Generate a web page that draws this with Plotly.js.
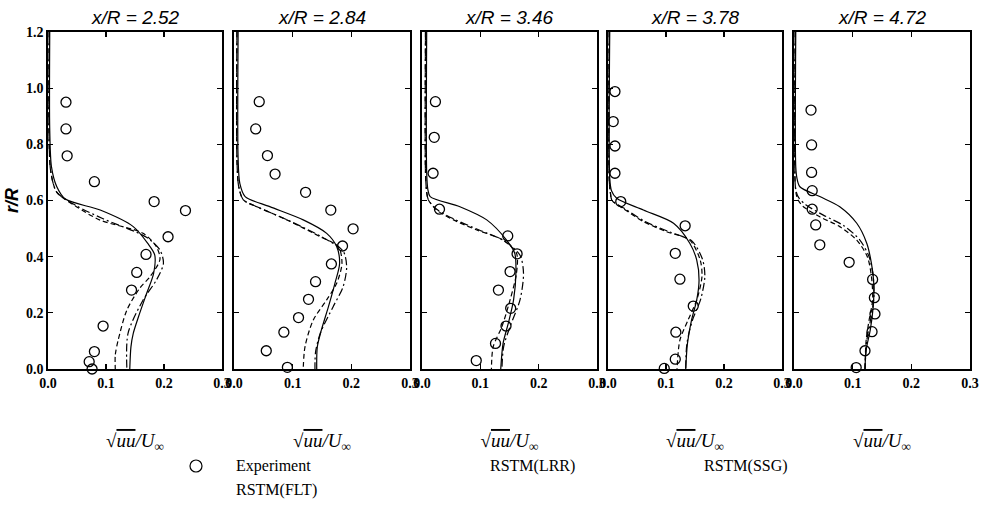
<!DOCTYPE html>
<html>
<head>
<meta charset="utf-8">
<script src="https://cdn.plot.ly/plotly-3.0.1.min.js"></script>
<style>html,body{margin:0;padding:0;background:#fff;}#chart{width:982px;height:506px;}</style>
</head>
<body>
<div id="chart"></div>
<script>
// ---------- data ----------
const stations = ['x/R = 2.52', 'x/R = 2.84', 'x/R = 3.46', 'x/R = 3.78', 'x/R = 4.72'];
const xTickVals = [0, 0.1, 0.2, 0.3];
const xTickText = ['0.0', '0.1', '0.2', '0.3'];
const yTickVals = [0, 0.2, 0.4, 0.6, 0.8, 1.0, 1.2];
const yTickText = ['0.0', '0.2', '0.4', '0.6', '0.8', '1.0', '1.2'];
const seriesNames = ['Experiment', 'RSTM(FLT)', 'RSTM(LRR)', 'RSTM(SSG)'];

// x/R = 2.52
const exp252_u = [0.031, 0.031, 0.033, 0.080, 0.183, 0.237, 0.207, 0.169, 0.153, 0.144, 0.095, 0.080, 0.071, 0.076];
const exp252_r = [0.950, 0.855, 0.759, 0.667, 0.596, 0.564, 0.471, 0.408, 0.344, 0.281, 0.153, 0.062, 0.026, 0.000];
const flt252_u = [0.003, 0.003, 0.006, 0.015, 0.030, 0.090, 0.147, 0.172, 0.184, 0.182, 0.170, 0.156, 0.147, 0.143, 0.141];
const flt252_r = [1.200, 0.850, 0.720, 0.650, 0.605, 0.566, 0.507, 0.447, 0.406, 0.340, 0.269, 0.186, 0.127, 0.079, 0.000];
const lrr252_u = [0.002, 0.002, 0.005, 0.015, 0.049, 0.090, 0.164, 0.187, 0.193, 0.176, 0.159, 0.136, 0.121, 0.116, 0.116];
const lrr252_r = [1.200, 0.800, 0.700, 0.630, 0.578, 0.530, 0.483, 0.435, 0.390, 0.329, 0.290, 0.210, 0.103, 0.050, 0.000];
const ssg252_u = [0.002, 0.002, 0.005, 0.015, 0.050, 0.095, 0.169, 0.193, 0.199, 0.187, 0.164, 0.138, 0.136];
const ssg252_r = [1.200, 0.800, 0.700, 0.630, 0.580, 0.535, 0.470, 0.424, 0.376, 0.317, 0.246, 0.127, 0.000];

// x/R = 2.84
const exp284_u = [0.043, 0.037, 0.057, 0.070, 0.122, 0.165, 0.203, 0.185, 0.166, 0.139, 0.127, 0.110, 0.085, 0.055, 0.091];
const exp284_r = [0.952, 0.855, 0.760, 0.694, 0.629, 0.566, 0.499, 0.438, 0.374, 0.311, 0.248, 0.183, 0.131, 0.065, 0.006];
const flt284_u = [0.007, 0.007, 0.010, 0.019, 0.061, 0.118, 0.158, 0.175, 0.180, 0.172, 0.161, 0.149, 0.142, 0.141];
const flt284_r = [1.200, 0.750, 0.660, 0.614, 0.578, 0.531, 0.483, 0.436, 0.376, 0.305, 0.222, 0.139, 0.079, 0.000];
const lrr284_u = [0.005, 0.005, 0.008, 0.016, 0.039, 0.090, 0.147, 0.178, 0.184, 0.175, 0.158, 0.135, 0.121, 0.118];
const lrr284_r = [1.200, 0.750, 0.650, 0.602, 0.578, 0.531, 0.471, 0.436, 0.376, 0.305, 0.246, 0.174, 0.079, 0.000];
const ssg284_u = [0.005, 0.005, 0.008, 0.016, 0.042, 0.095, 0.150, 0.186, 0.192, 0.186, 0.169, 0.147, 0.139, 0.138];
const ssg284_r = [1.200, 0.750, 0.650, 0.602, 0.575, 0.527, 0.470, 0.420, 0.364, 0.293, 0.222, 0.127, 0.060, 0.000];

// x/R = 3.46
const exp346_u = [0.023, 0.021, 0.019, 0.030, 0.147, 0.163, 0.151, 0.131, 0.152, 0.144, 0.126, 0.093];
const exp346_r = [0.952, 0.825, 0.697, 0.569, 0.474, 0.410, 0.347, 0.281, 0.216, 0.153, 0.091, 0.030];
const flt346_u = [0.008, 0.008, 0.010, 0.014, 0.065, 0.111, 0.145, 0.159, 0.161, 0.157, 0.148, 0.139, 0.135];
const flt346_r = [1.200, 0.700, 0.640, 0.614, 0.578, 0.531, 0.459, 0.412, 0.341, 0.246, 0.163, 0.091, 0.000];
const lrr346_u = [0.006, 0.006, 0.008, 0.011, 0.025, 0.054, 0.094, 0.139, 0.162, 0.162, 0.151, 0.137, 0.122, 0.119];
const lrr346_r = [1.200, 0.700, 0.630, 0.602, 0.566, 0.531, 0.495, 0.459, 0.412, 0.341, 0.246, 0.151, 0.079, 0.000];
const ssg346_u = [0.006, 0.006, 0.008, 0.011, 0.027, 0.058, 0.098, 0.142, 0.168, 0.174, 0.168, 0.151, 0.140, 0.137];
const ssg346_r = [1.200, 0.700, 0.630, 0.602, 0.566, 0.531, 0.495, 0.455, 0.405, 0.341, 0.246, 0.151, 0.080, 0.000];

// x/R = 3.78
const exp378_u = [0.012, 0.009, 0.012, 0.012, 0.022, 0.133, 0.116, 0.124, 0.147, 0.117, 0.116, 0.097];
const exp378_r = [0.988, 0.881, 0.794, 0.697, 0.596, 0.510, 0.412, 0.320, 0.224, 0.131, 0.035, 0.002];
const flt378_u = [0.003, 0.003, 0.006, 0.015, 0.061, 0.113, 0.141, 0.153, 0.157, 0.153, 0.144, 0.137, 0.134];
const flt378_r = [1.200, 0.680, 0.635, 0.608, 0.566, 0.519, 0.448, 0.388, 0.317, 0.246, 0.174, 0.091, 0.000];
const lrr378_u = [0.002, 0.002, 0.004, 0.007, 0.026, 0.061, 0.101, 0.141, 0.159, 0.162, 0.153, 0.138, 0.124, 0.119];
const lrr378_r = [1.200, 0.680, 0.630, 0.600, 0.572, 0.525, 0.489, 0.459, 0.388, 0.329, 0.246, 0.174, 0.103, 0.000];
const ssg378_u = [0.002, 0.002, 0.004, 0.007, 0.028, 0.064, 0.105, 0.145, 0.163, 0.167, 0.160, 0.145, 0.136, 0.134];
const ssg378_r = [1.200, 0.680, 0.630, 0.600, 0.572, 0.525, 0.489, 0.455, 0.390, 0.330, 0.250, 0.170, 0.090, 0.000];

// x/R = 4.72
const exp472_u = [0.029, 0.030, 0.030, 0.031, 0.031, 0.037, 0.044, 0.094, 0.134, 0.137, 0.138, 0.133, 0.121, 0.106];
const exp472_r = [0.922, 0.798, 0.700, 0.635, 0.569, 0.513, 0.442, 0.380, 0.319, 0.254, 0.196, 0.133, 0.065, 0.005];
const flt472_u = [0.003, 0.003, 0.005, 0.010, 0.044, 0.078, 0.107, 0.124, 0.132, 0.136, 0.135, 0.130, 0.123, 0.121];
const flt472_r = [1.200, 0.720, 0.680, 0.649, 0.614, 0.578, 0.519, 0.448, 0.376, 0.305, 0.222, 0.139, 0.068, 0.000];
const lrr472_u = [0.002, 0.002, 0.004, 0.007, 0.016, 0.044, 0.078, 0.107, 0.125, 0.132, 0.134, 0.128, 0.123, 0.121];
const lrr472_r = [1.200, 0.660, 0.620, 0.602, 0.578, 0.542, 0.507, 0.459, 0.400, 0.329, 0.246, 0.174, 0.103, 0.000];
const ssg472_u = [0.002, 0.002, 0.004, 0.008, 0.020, 0.050, 0.085, 0.112, 0.128, 0.135, 0.136, 0.130, 0.124, 0.121];
const ssg472_r = [1.200, 0.660, 0.630, 0.610, 0.585, 0.548, 0.510, 0.460, 0.400, 0.330, 0.250, 0.170, 0.100, 0.000];

// ---------- layout ----------
const W = 982, H = 506;
const panelLeft = [48, 234, 422, 608, 794];
const panelRight = [222, 410, 597, 782, 970];
const plotTop = 32, plotBottom = 369;

const panels = [
  {exp: [exp252_u, exp252_r], flt: [flt252_u, flt252_r], lrr: [lrr252_u, lrr252_r], ssg: [ssg252_u, ssg252_r]},
  {exp: [exp284_u, exp284_r], flt: [flt284_u, flt284_r], lrr: [lrr284_u, lrr284_r], ssg: [ssg284_u, ssg284_r]},
  {exp: [exp346_u, exp346_r], flt: [flt346_u, flt346_r], lrr: [lrr346_u, lrr346_r], ssg: [ssg346_u, ssg346_r]},
  {exp: [exp378_u, exp378_r], flt: [flt378_u, flt378_r], lrr: [lrr378_u, lrr378_r], ssg: [ssg378_u, ssg378_r]},
  {exp: [exp472_u, exp472_r], flt: [flt472_u, flt472_r], lrr: [lrr472_u, lrr472_r], ssg: [ssg472_u, ssg472_r]}
];

const lineStyles = {
  flt: {color: '#000', width: 1.2, dash: 'solid', shape: 'spline', smoothing: 0.8},
  lrr: {color: '#000', width: 1.2, dash: '5px,3px', shape: 'spline', smoothing: 0.8},
  ssg: {color: '#000', width: 1.2, dash: '8px,3px,2px,3px', shape: 'spline', smoothing: 0.8}
};

const traces = [];
const layout = {
  width: W, height: H,
  margin: {l: 0, r: 0, t: 0, b: 0},
  paper_bgcolor: '#fff', plot_bgcolor: '#fff',
  showlegend: false,
  font: {family: 'Liberation Serif', color: '#000'},
  annotations: [],
  shapes: []
};

const yDomain = [1 - plotBottom / H, 1 - plotTop / H];
const xTitleText = '√<span style="text-decoration:overline">uu</span>/U<sub>∞</sub>';

panels.forEach((p, i) => {
  const n = i === 0 ? '' : String(i + 1);
  const xa = 'x' + n, ya = 'y' + n;
  ['flt', 'lrr', 'ssg'].forEach((k, j) => {
    traces.push({
      type: 'scatter', mode: 'lines', name: seriesNames[j + 1],
      x: p[k][0], y: p[k][1], xaxis: xa, yaxis: ya,
      line: lineStyles[k], hoverinfo: 'skip'
    });
  });
  traces.push({
    type: 'scatter', mode: 'markers', name: seriesNames[0],
    x: p.exp[0], y: p.exp[1], xaxis: xa, yaxis: ya, cliponaxis: false,
    marker: {symbol: 'circle-open', size: 10, color: '#000', line: {width: 1.3, color: '#000'}}
  });
  layout['xaxis' + n] = {
    domain: [panelLeft[i] / W, panelRight[i] / W], anchor: ya,
    range: [0, 0.3], tickvals: xTickVals, ticktext: xTickText,
    ticks: 'inside', ticklen: 5, tickwidth: 1.2, tickcolor: '#000',
    showline: true, linewidth: 1.8, linecolor: '#000', mirror: 'ticks',
    showgrid: false, zeroline: false, fixedrange: true,
    tickfont: {family: 'Liberation Serif', size: 14, color: '#000', weight: 'bold'},
    title: {text: xTitleText, standoff: 44,
            font: {family: 'Liberation Serif', size: 19, style: 'italic', color: '#000'}}
  };
  layout['yaxis' + n] = {
    domain: yDomain, anchor: xa,
    range: [0, 1.2], tickvals: yTickVals, ticktext: yTickText,
    showticklabels: i === 0,
    ticks: 'inside', ticklen: 5, tickwidth: 1.2, tickcolor: '#000',
    showline: true, linewidth: 1.8, linecolor: '#000', mirror: 'ticks',
    showgrid: false, zeroline: false, fixedrange: true,
    tickfont: {family: 'Liberation Serif', size: 14, color: '#000', weight: 'bold'}
  };
  if (i === 0) {
    layout.yaxis.title = {text: 'r/R', standoff: 3,
      font: {family: 'Liberation Sans', size: 18, style: 'italic', weight: 'bold', color: '#000'}};
  }
  layout.annotations.push({
    xref: 'paper', yref: 'paper',
    x: (panelLeft[i] + panelRight[i]) / 2 / W, y: 1 - 17 / H,
    xanchor: 'center', yanchor: 'middle', showarrow: false,
    text: stations[i],
    font: {family: 'Liberation Sans', size: 19, style: 'italic', color: '#000'}
  });
});

// legend (drawn as text, as in the original figure)
const legendItems = [
  {text: seriesNames[0], x: 234, y: 466},
  {text: seriesNames[1], x: 234, y: 490},
  {text: seriesNames[2], x: 488, y: 466},
  {text: seriesNames[3], x: 702, y: 466}
];
legendItems.forEach(it => {
  layout.annotations.push({
    xref: 'paper', yref: 'paper', x: it.x / W, y: 1 - it.y / H,
    xanchor: 'left', yanchor: 'middle', showarrow: false, text: it.text,
    font: {family: 'Liberation Serif', size: 16, color: '#000'}
  });
});
layout.shapes.push({
  type: 'circle', xref: 'paper', yref: 'paper',
  x0: 190 / W, x1: 202 / W, y0: 1 - 472 / H, y1: 1 - 460 / H,
  line: {color: '#000', width: 1.2}
});

Plotly.newPlot('chart', traces, layout, {displayModeBar: false, staticPlot: true});
</script>
</body>
</html>
